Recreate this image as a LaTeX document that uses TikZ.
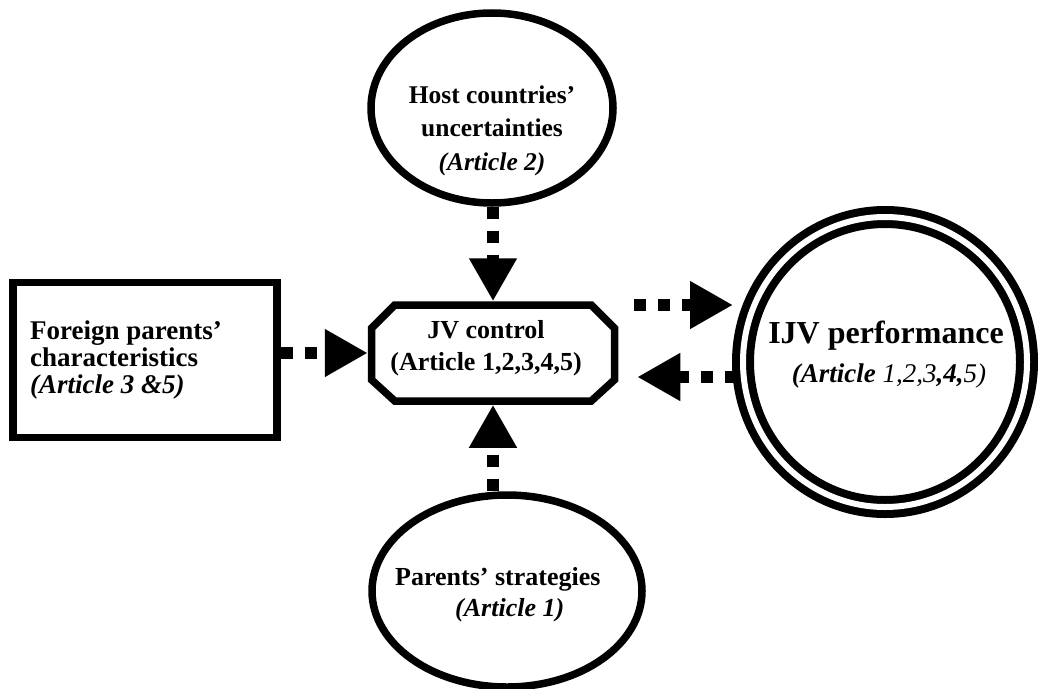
\documentclass[tikz,border=0pt]{standalone}
\usepackage{fontspec}
\setmainfont{Liberation Serif}
\usetikzlibrary{arrows.meta,shapes.geometric,calc}
\begin{document}
\begin{tikzpicture}[x=1pt,y=-1pt,
  shapeline/.style={draw=black,line width=7.5pt,inner sep=0pt},
  conn/.style={line width=12pt,dash pattern=on 12pt off 12pt,
    -{Triangle[length=43pt,width=45pt]}},
  lbl/.style={inner sep=0pt,anchor=base,font=\bfseries\fontsize{26}{30}\selectfont},
]
\useasboundingbox (0,0) rectangle (1038,688);

% shapes
\node[shapeline,ellipse,minimum width=242pt,minimum height=190pt] (host) at (492,108) {};
\node[shapeline,rectangle,minimum width=264pt,minimum height=155pt] (fpc) at (145,360) {};
% octagonal box: an invisible rectangle carries the anchors, the outline is drawn around it
\node[rectangle,inner sep=0pt,outer sep=3.75pt,minimum width=243pt,minimum height=96pt] (jv) at (493,353) {};
\draw[shapeline,line join=miter]
  ($(jv.north west)+(27,3.75)$) -- ($(jv.north east)+(-27,3.75)$)
  -- ($(jv.north east)+(-3.75,27)$) -- ($(jv.south east)+(-3.75,-25)$)
  -- ($(jv.south east)+(-27,-3.75)$) -- ($(jv.south west)+(27,-3.75)$)
  -- ($(jv.south west)+(3.75,-25)$) -- ($(jv.north west)+(3.75,27)$) -- cycle;
\node[draw=black,line width=8pt,double,double distance=6pt,ellipse,inner sep=0pt,outer sep=0pt,
      minimum width=284pt,minimum height=290pt] (ijv) at (885,362) {};
\node[shapeline,ellipse,minimum width=270pt,minimum height=192pt] (pst) at (507,591) {};

% texts
\node[lbl,font=\bfseries\fontsize{25.5}{28}\selectfont] (h1) at (492,103) {Host countries’};
\node[lbl,font=\bfseries\fontsize{25.5}{28}\selectfont] (h2) at (492,136) {uncertainties};
\node[lbl,font=\bfseries\itshape\fontsize{25.5}{28}\selectfont] (h3) at (492,170) {(Article 2)};

\node[lbl,anchor=base west,font=\bfseries\fontsize{27}{30}\selectfont] (f1) at (30,339) {Foreign parents’};
\node[lbl,anchor=base west,font=\bfseries\fontsize{27}{30}\selectfont] (f2) at (30,366) {characteristics};
\node[lbl,anchor=base west,font=\bfseries\itshape\fontsize{27}{30}\selectfont] (f3) at (30,393) {(Article 3 \&5)};

\node[lbl] (j1) at (486,338) {JV control};
\node[lbl] (j2) at (486,370) {(Article 1,2,3,4,5)};

\node[lbl,font=\bfseries\fontsize{32}{36}\selectfont] (i1) at (886,343) {IJV performance};
\node[lbl,font=\itshape\fontsize{27}{30}\selectfont] (i2) at (889,382)
  {\textbf{(Article} 1,2,3\textbf{,4,}5)};

\node[lbl,anchor=base west] (p1) at (395,585) {Parents’ strategies};
\node[lbl,anchor=base west,font=\bfseries\itshape\fontsize{26}{30}\selectfont] (p2) at (455,616) {(Article 1)};

% connectors
\draw[conn] (jv.north |- host.south) -- (jv.north);
\draw[conn] (fpc.east |- jv.west) -- (jv.west);
\draw[conn] (jv.south |- pst.north) -- (jv.south);
\draw[conn] ($(jv.east)+(16,-48)$) -- ($(ijv.west)+(-10,-57)$);
\draw[conn] ($(ijv.west)+(-6,15)$) -- ($(jv.east)+(19,24)$);
\end{tikzpicture}
\end{document}
